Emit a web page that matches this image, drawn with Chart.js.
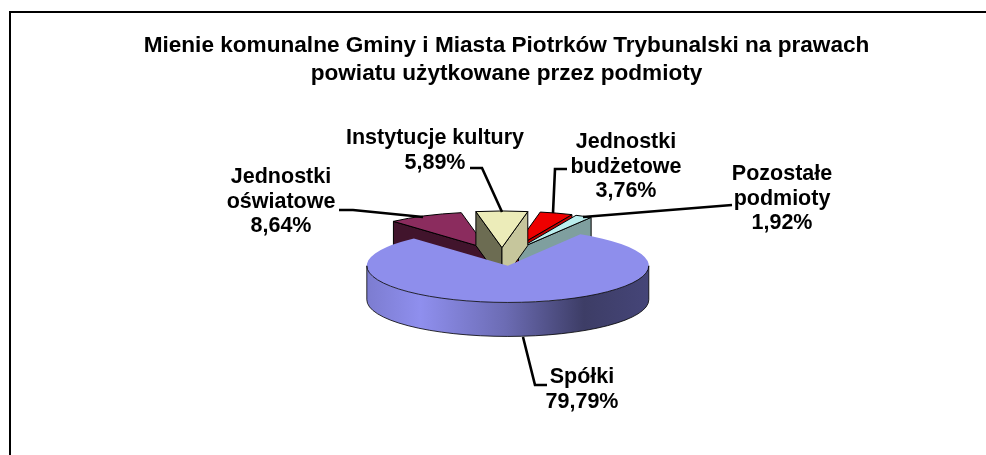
<!DOCTYPE html>
<html>
<head>
<meta charset="utf-8">
<title>Mienie komunalne</title>
<script src="https://cdn.jsdelivr.net/npm/chart.js@4"></script>
<style>
  html, body { margin: 0; padding: 0; background: #fff; overflow: hidden; }
  canvas { display: block; }
</style>
</head>
<body>
<canvas id="pie-chart" width="986" height="455"></canvas>
<script>
// Values
const categories = ["Spółki", "Jednostki oświatowe", "Instytucje kultury", "Jednostki budżetowe", "Pozostałe podmioty"];
const shares = [79.79, 8.64, 5.89, 3.76, 1.92];
const labelLines = [["Spółki"], ["Jednostki", "oświatowe"], ["Instytucje kultury"], ["Jednostki", "budżetowe"], ["Pozostałe", "podmioty"]];
const titleLines = ["Mienie komunalne Gminy i Miasta Piotrków Trybunalski na prawach", "powiatu użytkowane przez podmioty"];

// Colours per slice
const topColors = ["#8e8eec", "#8b2c5e", "#ececb9", "#ee0000", "#bbeeee"];
const startWallColors = [null, "#41142c", "#6c6c52", null, null];
const endWallColors = [null, null, "#c6c69c", "#c40000", "#7f9f9f"];

// Fake 3D settings
const squash = 0.26;
const depth = 34;
const explode = [30, 40, 40, 40, 40];
const nudgeX = [0, 0, -3, -2.5, -5];
const drawOrder = [3, 4, 1, 2, 0];
const pieShiftX = -1.5;

// Text blocks and leader lines, in page pixels
const labelAnchors = [[582, 377], [281, 177], [435, 138], [626, 142], [782, 174]];
const lineGap = 24.7;
const leaders = [
  [[547, 385], [535, 385], [523, 337]],
  [[339, 210], [353, 210], [423, 217]],
  [[470, 168], [482, 168], [502, 212]],
  [[567, 169], [555, 169], [553, 213]],
  [[732, 205], [583, 217]]
];

function drawPie(chart) {
  const ctx = chart.ctx;
  const arcs = chart.getDatasetMeta(0).data;

  drawOrder.forEach(i => {
    const arc = arcs[i];
    const mid = (arc.startAngle + arc.endAngle) / 2;
    const x = arc.x + pieShiftX + nudgeX[i] + Math.cos(mid) * explode[i];
    const y = arc.y + Math.sin(mid) * explode[i] * squash;
    const rx = arc.outerRadius;
    const ry = rx * squash;
    const edge = a => [x + rx * Math.cos(a), y + ry * Math.sin(a)];

    ctx.save();
    ctx.lineWidth = 1;
    ctx.strokeStyle = "#000";
    ctx.lineJoin = "round";

    // cut faces of the wedge
    [[arc.startAngle, startWallColors[i]], [arc.endAngle, endWallColors[i]]].forEach(([a, color]) => {
      if (!color) return;
      const p = edge(a);
      ctx.beginPath();
      ctx.moveTo(x, y);
      ctx.lineTo(p[0], p[1]);
      ctx.lineTo(p[0], p[1] + depth);
      ctx.lineTo(x, y + depth);
      ctx.closePath();
      ctx.fillStyle = color;
      ctx.fill();
      ctx.stroke();
    });

    // top face
    ctx.beginPath();
    ctx.moveTo(x, y);
    ctx.ellipse(x, y, rx, ry, 0, arc.startAngle, arc.endAngle);
    ctx.closePath();
    ctx.fillStyle = topColors[i];
    ctx.fill();

    // rim, only the part facing the viewer; the big slice has no outline elsewhere
    const from = Math.max(arc.startAngle, 0);
    const to = Math.min(arc.endAngle, Math.PI);
    if (to > from) {
      const grad = ctx.createLinearGradient(x - rx, 0, x + rx, 0);
      grad.addColorStop(0, "#7c7cd0");
      grad.addColorStop(0.19, "#8f8fee");
      grad.addColorStop(0.49, "#6c6cb4");
      grad.addColorStop(0.77, "#3d3d66");
      grad.addColorStop(1, "#454578");
      ctx.beginPath();
      ctx.ellipse(x, y, rx, ry, 0, from, to);
      ctx.ellipse(x, y + depth, rx, ry, 0, to, from, true);
      ctx.closePath();
      ctx.fillStyle = grad;
      ctx.fill();
      ctx.lineWidth = 0.8;
      ctx.stroke();
    } else {
      ctx.stroke();
    }
    ctx.restore();
  });
}

const pie3d = {
  id: "pie3d",
  beforeDraw(chart) {
    // frame: only the top and left sides are in the picture
    const ctx = chart.ctx;
    ctx.save();
    ctx.strokeStyle = "#000";
    ctx.lineWidth = 2;
    ctx.beginPath();
    ctx.moveTo(10, 455);
    ctx.lineTo(10, 12);
    ctx.lineTo(986, 12);
    ctx.stroke();
    ctx.restore();
  },
  beforeDatasetsDraw(chart) {
    drawPie(chart);
    return false;
  },
  afterDraw(chart) {
    const ctx = chart.ctx;
    ctx.save();
    ctx.strokeStyle = "#000";
    ctx.lineWidth = 2.6;
    leaders.forEach(points => {
      ctx.beginPath();
      points.forEach((p, n) => n ? ctx.lineTo(p[0], p[1]) : ctx.moveTo(p[0], p[1]));
      ctx.stroke();
    });

    ctx.fillStyle = "#000";
    ctx.font = "bold 21.5px 'Liberation Sans', Arial, sans-serif";
    ctx.textAlign = "center";
    ctx.textBaseline = "middle";
    labelLines.forEach((lines, i) => {
      const pct = shares[i].toFixed(2).replace(".", ",") + "%";
      lines.concat(pct).forEach((text, n) => {
        ctx.fillText(text, labelAnchors[i][0], labelAnchors[i][1] + n * lineGap);
      });
    });
    ctx.restore();
  }
};

new Chart(document.getElementById("pie-chart"), {
  type: "pie",
  data: {
    labels: categories,
    datasets: [{ data: shares, backgroundColor: topColors }]
  },
  options: {
    responsive: false,
    animation: false,
    rotation: 31,
    radius: 141,
    layout: { padding: { left: 27, right: 0, top: 0, bottom: 27 } },
    plugins: {
      legend: { display: false },
      tooltip: { enabled: false },
      title: {
        display: true,
        text: titleLines,
        color: "#000",
        font: { family: "'Liberation Sans', Arial, sans-serif", size: 22.6, weight: "bold", lineHeight: 1.24 },
        padding: { top: 32, bottom: 0 }
      }
    }
  },
  plugins: [pie3d]
});
</script>
</body>
</html>
